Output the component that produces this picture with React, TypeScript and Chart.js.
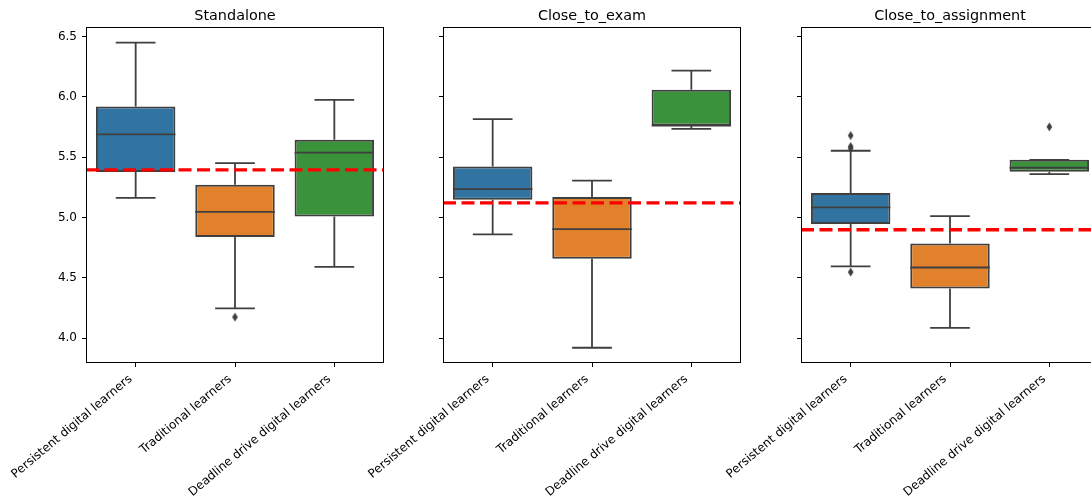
import { useEffect, useRef } from 'react';
import { Chart, registerables } from 'chart.js';

Chart.register(...registerables);

// Learner groups shown along each x axis
const groups = ['Persistent digital learners', 'Traditional learners', 'Deadline drive digital learners'];
const panelTitles = ['Standalone', 'Close_to_exam', 'Close_to_assignment'];
const boxColors = ['#3274a1', '#e1812c', '#3a923a'];
const yTickValues = [4.0, 4.5, 5.0, 5.5, 6.0, 6.5];

// Standalone: box statistics per group
const standaloneLow = [5.163, 4.246, 4.591];
const standaloneQ1 = [5.376, 4.837, 5.008];
const standaloneMedian = [5.688, 5.047, 5.538];
const standaloneQ3 = [5.92, 5.271, 5.644];
const standaloneHigh = [6.45, 5.451, 5.975];
const standaloneOutliers = [[], [4.174], []];
const standaloneMean = 5.395;

// Close_to_exam
const examLow = [4.859, 3.92, 5.735];
const examQ1 = [5.146, 4.657, 5.762];
const examMedian = [5.235, 4.904, 5.762];
const examQ3 = [5.422, 5.169, 6.058];
const examHigh = [5.815, 5.306, 6.218];
const examOutliers = [[], [], []];
const examMean = 5.121;

// Close_to_assignment
const assignLow = [4.594, 4.085, 5.359];
const assignQ1 = [4.945, 4.411, 5.379];
const assignMedian = [5.083, 4.585, 5.412];
const assignQ3 = [5.202, 4.784, 5.478];
const assignHigh = [5.553, 5.011, 5.478];
const assignOutliers = [[5.679, 5.588, 5.573, 4.547], [], [5.751]];
const assignMean = 4.898;

type PanelData = {
  title: string;
  low: number[];
  q1: number[];
  median: number[];
  q3: number[];
  high: number[];
  outliers: number[][];
  mean: number;
};

const panels: PanelData[] = [
  { title: panelTitles[0], low: standaloneLow, q1: standaloneQ1, median: standaloneMedian, q3: standaloneQ3, high: standaloneHigh, outliers: standaloneOutliers, mean: standaloneMean },
  { title: panelTitles[1], low: examLow, q1: examQ1, median: examMedian, q3: examQ3, high: examHigh, outliers: examOutliers, mean: examMean },
  { title: panelTitles[2], low: assignLow, q1: assignQ1, median: assignMedian, q3: assignQ3, high: assignHigh, outliers: assignOutliers, mean: assignMean },
];

// Shared y range: data extent plus 5% margin on both ends
const allValues = panels.flatMap((p) => [...p.low, ...p.high, ...p.outliers.flat()]);
const dataMin = Math.min(...allValues);
const dataMax = Math.max(...allValues);
const yMin = dataMin - 0.05 * (dataMax - dataMin);
const yMax = dataMax + 0.05 * (dataMax - dataMin);

const FONT = "'DejaVu Sans', sans-serif";
const LINE = '#3f3f3f';
const CANVAS_W = 394;
const CANVAS_H = 499;
const canvasLefts = [0, 357, 715];

function makeDiamond(): HTMLCanvasElement {
  const c = document.createElement('canvas');
  c.width = 7;
  c.height = 10;
  const g = c.getContext('2d')!;
  g.fillStyle = LINE;
  g.beginPath();
  g.moveTo(3.5, 0.6);
  g.lineTo(6.3, 5);
  g.lineTo(3.5, 9.4);
  g.lineTo(0.7, 5);
  g.closePath();
  g.fill();
  return c;
}

function BoxPanel({ index }: { index: number }) {
  const ref = useRef<HTMLCanvasElement>(null);

  useEffect(() => {
    const p = panels[index];
    const diamond = makeDiamond();

    const outlierPoints = p.outliers.flatMap((vals, i) => vals.map((v) => ({ x: groups[i], y: v })));

    const boxPlugin = {
      id: 'boxParts',
      beforeDatasetsDraw(chart: any) {
        const { ctx, scales } = chart;
        const xs = scales.x;
        const ys = scales.y;
        const step = xs.getPixelForValue(1) - xs.getPixelForValue(0);
        ctx.save();
        ctx.strokeStyle = LINE;
        ctx.lineWidth = 1.8;
        groups.forEach((_, i) => {
          const cx = xs.getPixelForValue(i);
          const cap = step * 0.2;
          const yLow = ys.getPixelForValue(p.low[i]);
          const yHigh = ys.getPixelForValue(p.high[i]);
          const yQ1 = ys.getPixelForValue(p.q1[i]);
          const yQ3 = ys.getPixelForValue(p.q3[i]);
          ctx.beginPath();
          ctx.moveTo(cx, yQ1);
          ctx.lineTo(cx, yLow);
          ctx.moveTo(cx, yQ3);
          ctx.lineTo(cx, yHigh);
          ctx.moveTo(cx - cap, yLow);
          ctx.lineTo(cx + cap, yLow);
          ctx.moveTo(cx - cap, yHigh);
          ctx.lineTo(cx + cap, yHigh);
          ctx.stroke();
        });
        ctx.restore();
      },
      afterDatasetsDraw(chart: any) {
        const { ctx, scales, chartArea } = chart;
        const xs = scales.x;
        const ys = scales.y;
        const step = xs.getPixelForValue(1) - xs.getPixelForValue(0);
        ctx.save();
        ctx.strokeStyle = LINE;
        ctx.lineWidth = 1.8;
        groups.forEach((_, i) => {
          const cx = xs.getPixelForValue(i);
          const half = step * 0.4;
          const ym = ys.getPixelForValue(p.median[i]);
          ctx.beginPath();
          ctx.moveTo(cx - half, ym);
          ctx.lineTo(cx + half, ym);
          ctx.stroke();
        });
        // overall mean reference line
        ctx.beginPath();
        ctx.rect(chartArea.left, chartArea.top, chartArea.right - chartArea.left, chartArea.bottom - chartArea.top);
        ctx.clip();
        const yMean = ys.getPixelForValue(p.mean);
        ctx.strokeStyle = '#ff0000';
        ctx.lineWidth = 3.3;
        ctx.setLineDash([13, 5.5]);
        ctx.beginPath();
        ctx.moveTo(chartArea.left, yMean);
        ctx.lineTo(chartArea.right, yMean);
        ctx.stroke();
        ctx.restore();
      },
      afterDraw(chart: any) {
        const { ctx, chartArea } = chart;
        ctx.save();
        ctx.strokeStyle = '#000';
        ctx.lineWidth = 1;
        const l = Math.round(chartArea.left) + 0.5;
        const t = Math.round(chartArea.top) + 0.5;
        const r = Math.round(chartArea.right) - 0.5;
        const b = Math.round(chartArea.bottom) - 0.5;
        ctx.strokeRect(l, t, r - l, b - t);
        ctx.restore();
      },
    };

    const chart = new Chart(ref.current!, {
      type: 'bar',
      data: {
        labels: groups,
        datasets: [
          {
            type: 'bar',
            data: p.q1.map((v, i) => [v, p.q3[i]]) as any,
            backgroundColor: boxColors,
            borderColor: LINE,
            borderWidth: 2,
            borderSkipped: false,
            barPercentage: 0.8,
            categoryPercentage: 1,
          },
          {
            type: 'line',
            data: outlierPoints as any,
            showLine: false,
            pointStyle: diamond as any,
            pointRadius: 5,
            pointHoverRadius: 5,
          },
        ],
      },
      options: {
        responsive: false,
        animation: false,
        devicePixelRatio: 1,
        events: [],
        layout: { padding: { top: 8, right: 10, bottom: 0, left: 0 } },
        plugins: {
          legend: { display: false },
          tooltip: { enabled: false },
          title: {
            display: true,
            fullSize: false,
            text: p.title,
            color: '#000',
            font: { family: FONT, size: 14.4, weight: 'normal' },
            padding: { top: 0, bottom: 2 },
          },
        },
        scales: {
          x: {
            type: 'category',
            offset: true,
            border: { display: false },
            grid: { drawOnChartArea: false, drawTicks: true, tickLength: 4, color: '#000', offset: false },
            ticks: {
              autoSkip: false,
              minRotation: 40,
              maxRotation: 40,
              padding: 5,
              labelOffset: -5,
              color: '#000',
              font: { family: FONT, size: 12 },
            },
            afterFit: (s: any) => {
              s.height = 136;
              s.paddingLeft = 0;
              s.paddingRight = 0;
            },
          },
          y: {
            type: 'linear',
            min: yMin,
            max: yMax,
            border: { display: false },
            grid: { drawOnChartArea: false, drawTicks: true, tickLength: 4, color: '#000' },
            ticks: {
              display: index === 0,
              padding: 5,
              color: '#000',
              font: { family: FONT, size: 12 },
              callback: (v: any) => Number(v).toFixed(1),
            },
            afterBuildTicks: (s: any) => {
              s.ticks = yTickValues.map((v) => ({ value: v }));
            },
            afterFit: (s: any) => {
              s.width = 86;
              s.paddingTop = 0;
              s.paddingBottom = 0;
            },
          },
        },
      } as any,
      plugins: [boxPlugin],
    });
    return () => chart.destroy();
  }, [index]);

  return (
    <canvas
      ref={ref}
      width={CANVAS_W}
      height={CANVAS_H}
      style={{ position: 'absolute', left: canvasLefts[index], top: 0, width: CANVAS_W, height: CANVAS_H }}
    />
  );
}

export default function App() {
  return (
    <div
      style={{
        position: 'fixed',
        left: 0,
        top: 0,
        width: 1091,
        height: 499,
        overflow: 'hidden',
        background: '#fff',
      }}
    >
      {panels.map((_, i) => (
        <BoxPanel key={i} index={i} />
      ))}
    </div>
  );
}
